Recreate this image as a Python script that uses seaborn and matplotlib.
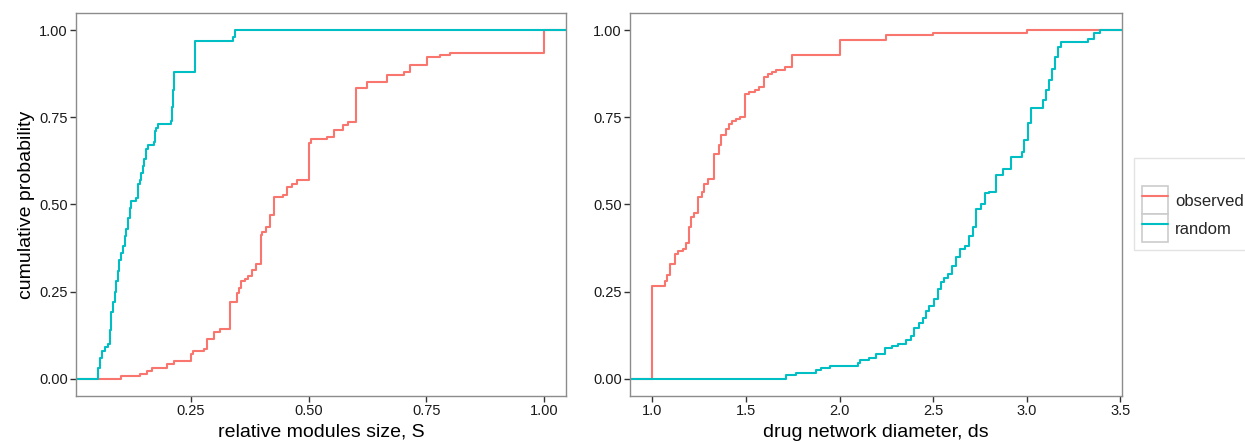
import numpy as np
import pandas as pd
import matplotlib
matplotlib.use("Agg")
import matplotlib.pyplot as plt
import seaborn as sns
from matplotlib.lines import Line2D
from matplotlib.patches import Rectangle
from matplotlib.ticker import FormatStrFormatter

# --- data: step positions and cumulative probability after each step ---
# left panel: relative modules size, S
s_obs_x = [0.101, 0.142, 0.156, 0.167, 0.199, 0.214, 0.250, 0.254, 0.277, 0.285,
           0.300, 0.311, 0.334, 0.348, 0.353, 0.357, 0.365, 0.372, 0.380, 0.389,
           0.399, 0.402, 0.410, 0.418, 0.427, 0.445, 0.455, 0.465, 0.475, 0.501,
           0.505, 0.539, 0.555, 0.573, 0.584, 0.601, 0.624, 0.667, 0.702, 0.716,
           0.752, 0.780, 0.801, 1.000]
s_obs_p = [0.007, 0.014, 0.023, 0.030, 0.043, 0.050, 0.072, 0.078, 0.085, 0.114,
           0.135, 0.141, 0.220, 0.245, 0.260, 0.279, 0.286, 0.296, 0.312, 0.329,
           0.413, 0.422, 0.436, 0.470, 0.521, 0.528, 0.549, 0.560, 0.570, 0.678,
           0.687, 0.695, 0.715, 0.729, 0.736, 0.836, 0.851, 0.872, 0.880, 0.900,
           0.923, 0.929, 0.936, 1.000]
s_rnd_x = [0.053, 0.056, 0.061, 0.068, 0.074, 0.077, 0.081, 0.085, 0.088, 0.091,
           0.095, 0.098, 0.102, 0.105, 0.109, 0.112, 0.116, 0.120, 0.123, 0.134,
           0.137, 0.141, 0.144, 0.148, 0.151, 0.155, 0.159, 0.171, 0.174, 0.176,
           0.180, 0.207, 0.209, 0.212, 0.214, 0.258, 0.339, 0.343]
s_rnd_p = [0.03, 0.06, 0.08, 0.09, 0.10, 0.14, 0.19, 0.22, 0.25, 0.28,
           0.31, 0.34, 0.36, 0.38, 0.41, 0.43, 0.46, 0.49, 0.51, 0.52,
           0.56, 0.57, 0.59, 0.61, 0.63, 0.66, 0.67, 0.68, 0.71, 0.72,
           0.73, 0.74, 0.78, 0.83, 0.88, 0.97, 0.98, 1.00]

# right panel: drug network diameter, ds
d_obs_x = [1.000, 1.066, 1.079, 1.096, 1.120, 1.137, 1.164, 1.182, 1.194, 1.208,
           1.223, 1.244, 1.267, 1.276, 1.297, 1.328, 1.356, 1.369, 1.392, 1.410,
           1.427, 1.445, 1.470, 1.495, 1.516, 1.548, 1.569, 1.594, 1.619, 1.637,
           1.662, 1.708, 1.744, 2.000, 2.250, 2.500, 3.000]
d_obs_p = [0.265, 0.279, 0.298, 0.330, 0.358, 0.367, 0.373, 0.390, 0.436, 0.465,
           0.477, 0.522, 0.537, 0.558, 0.572, 0.644, 0.672, 0.701, 0.718, 0.731,
           0.740, 0.746, 0.752, 0.817, 0.823, 0.830, 0.838, 0.865, 0.875, 0.881,
           0.887, 0.894, 0.930, 0.972, 0.988, 0.993, 1.000]
d_rnd_x = [1.716, 1.765, 1.872, 1.902, 1.947, 2.098, 2.107, 2.157, 2.196, 2.245,
           2.281, 2.311, 2.356, 2.383, 2.400, 2.423, 2.448, 2.463, 2.480, 2.503,
           2.525, 2.543, 2.560, 2.580, 2.601, 2.625, 2.646, 2.672, 2.694, 2.712,
           2.730, 2.756, 2.779, 2.800, 2.836, 2.871, 2.919, 2.975, 2.987, 3.005,
           3.023, 3.089, 3.103, 3.121, 3.135, 3.153, 3.165, 3.183, 3.327, 3.360,
           3.390]
d_rnd_p = [0.009, 0.016, 0.024, 0.031, 0.037, 0.045, 0.052, 0.058, 0.072, 0.087,
           0.095, 0.100, 0.112, 0.121, 0.144, 0.160, 0.174, 0.193, 0.209, 0.228,
           0.257, 0.276, 0.290, 0.300, 0.322, 0.350, 0.372, 0.380, 0.410, 0.436,
           0.486, 0.501, 0.532, 0.537, 0.585, 0.602, 0.637, 0.651, 0.685, 0.733,
           0.778, 0.800, 0.828, 0.857, 0.890, 0.925, 0.952, 0.966, 0.976, 0.993,
           1.000]

groups = ["observed", "random"]
colors = {"observed": "#F8766D", "random": "#00BFC4"}


def ecdf_frame(obs_x, obs_p, rnd_x, rnd_p):
    parts = []
    for name, xs, ps in [("observed", obs_x, obs_p), ("random", rnd_x, rnd_p)]:
        w = np.diff(np.r_[0.0, ps])  # weight of each step = jump height
        parts.append(pd.DataFrame({"value": xs, "w": w, "type": name}))
    return pd.concat(parts, ignore_index=True)


df_s = ecdf_frame(s_obs_x, s_obs_p, s_rnd_x, s_rnd_p)
df_d = ecdf_frame(d_obs_x, d_obs_p, d_rnd_x, d_rnd_p)

sns.set_theme(style="ticks")
plt.rcParams["font.family"] = ["Liberation Sans", "DejaVu Sans"]

W, H = 1245, 444
fig = plt.figure(figsize=(W / 100, H / 100), dpi=100)
ax1 = fig.add_axes([76 / W, 48 / H, 490 / W, 383 / H])
ax2 = fig.add_axes([630 / W, 48 / H, 492 / W, 383 / H])

panels = [
    (ax1, df_s, "relative modules size, S", [0.25, 0.5, 0.75, 1.0], "%.2f"),
    (ax2, df_d, "drug network diameter, ds", [1.0, 1.5, 2.0, 2.5, 3.0, 3.5], "%.1f"),
]

for ax, df, xlabel, xticks, fmt in panels:
    for name in groups:
        sub = df[df["type"] == name]
        sns.ecdfplot(data=sub, x="value", weights="w", color=colors[name],
                     linewidth=1.5, ax=ax)
    # ggplot-like 5% expansion of the data range
    lo, hi = df["value"].min(), df["value"].max()
    pad = 0.05 * (hi - lo)
    ax.set_xlim(lo - pad, hi + pad)
    ax.set_ylim(-0.05, 1.05)
    # stretch the step lines to both panel edges, like stat_ecdf(pad = TRUE)
    for line in ax.lines:
        x = np.asarray(line.get_xdata(), dtype=float)
        y = np.asarray(line.get_ydata(), dtype=float)
        x = np.where(np.isneginf(x), lo - pad, x)
        line.set_data(np.r_[x, hi + pad], np.r_[y, y[-1]])

    ax.set_xticks(xticks)
    ax.set_yticks([0, 0.25, 0.5, 0.75, 1.0])
    ax.xaxis.set_major_formatter(FormatStrFormatter(fmt))
    ax.yaxis.set_major_formatter(FormatStrFormatter("%.2f"))
    ax.tick_params(axis="both", length=4, width=1, color="#333333",
                   labelsize=10.5, labelcolor="#1a1a1a", pad=2)
    for sp in ax.spines.values():
        sp.set_visible(True)
        sp.set_color("#8c8c8c")
        sp.set_linewidth(1.0)
    ax.set_xlabel(xlabel, fontsize=14, color="black", labelpad=4)
    ax.set_ylabel("")

ax1.set_ylabel("cumulative probability", fontsize=14, color="black", labelpad=3)

handles = [
    (Rectangle((0, 0), 1, 1, facecolor="white", edgecolor="#cccccc", lw=1.2),
     Line2D([], [], color=colors[n], lw=1.5))
    for n in groups
]
leg = fig.legend(handles, groups, loc="upper left",
                 bbox_to_anchor=(1134 / W, 1 - 158 / H),
                 fontsize=12, title=" ", title_fontsize=16,
                 handlelength=1.6, handleheight=2.2, labelspacing=0,
                 handletextpad=0.4, borderpad=0.45, borderaxespad=0,
                 frameon=True, fancybox=False)
leg.get_frame().set_edgecolor("#dddddd")
leg.get_frame().set_linewidth(1.0)

fig.savefig("out.png", dpi=100, facecolor="white")
